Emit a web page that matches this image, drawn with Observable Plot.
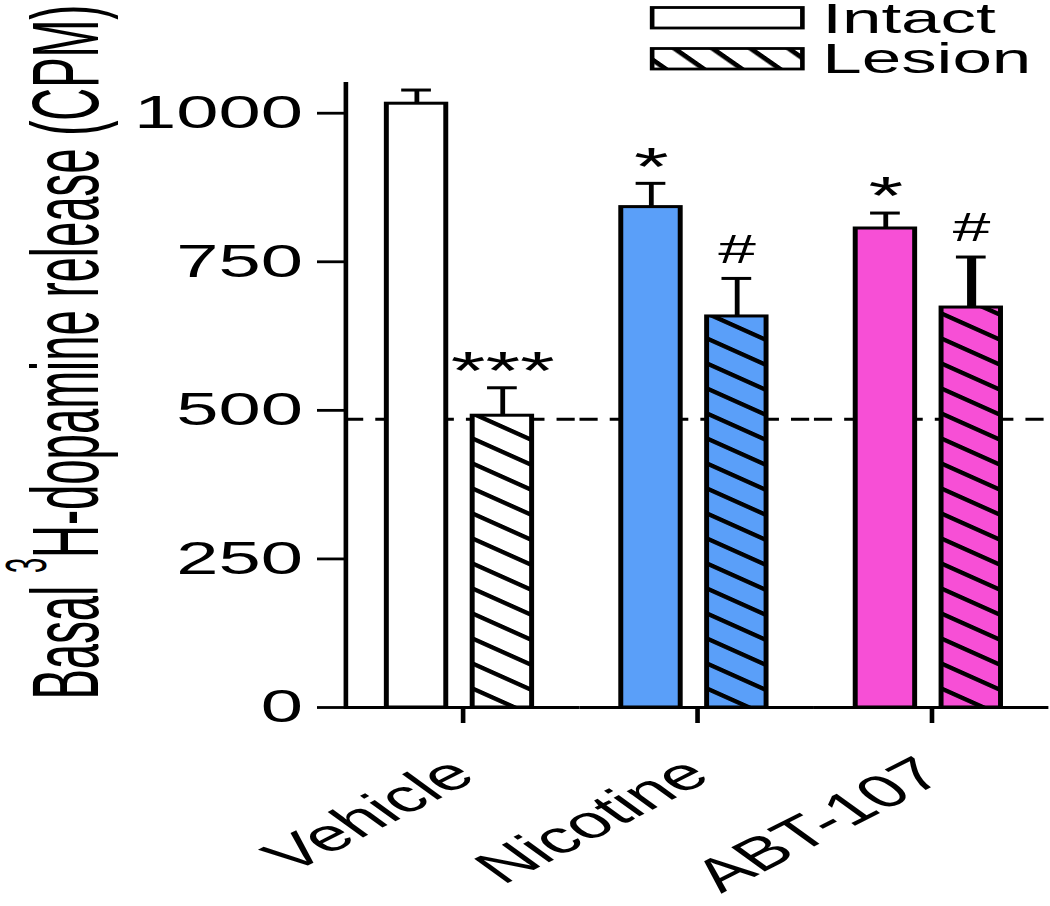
<!DOCTYPE html>
<html><head><meta charset="utf-8">
<script src="https://cdn.jsdelivr.net/npm/d3@7"></script>
<script src="https://cdn.jsdelivr.net/npm/@observablehq/plot@0.6"></script>
<style>
html,body{margin:0;padding:0;background:#fff;overflow:hidden;}
#wrap{position:relative;width:636px;height:906px;transform:scaleX(1.651);transform-origin:0 0;}
#wrap svg{display:block;}
g[aria-label="y-axis tick"] path, g[aria-label="y-axis tick"] line {stroke-width:2.8px;}
g[aria-label="fx-axis tick"] path, g[aria-label="fx-axis tick"] line {stroke-width:2.8px;}
g[aria-label="frame"], rect[aria-label="frame"], line[aria-label="frame"] {stroke-width:2.8px;}
</style></head><body><div id="wrap"></div>
<script>
const groups = ["Vehicle", "Nicotine", "ABT-107"];
const series = ["Intact", "Lesion"];
const groupColors = ["#ffffff", "#5a9ff9", "#f74fd6"];
const intactMean = [1016, 842, 806];
const intactSem = [23, 40, 26];
const lesionMean = [491, 658, 673];
const lesionSem = [47, 64, 85];
const intactSig = ["", "*", "*"];
const lesionSig = ["***", "#", "#"];
const referenceLevel = [485];
const yTicks = [0, 250, 500, 750, 1000];
const yLabel = "Basal ³H-dopamine release (CPM)";

const data = [];
groups.forEach((g, i) => {
  data.push({group: g, series: "Intact", mean: intactMean[i], sem: intactSem[i], sig: intactSig[i]});
  data.push({group: g, series: "Lesion", mean: lesionMean[i], sem: lesionSem[i], sig: lesionSig[i]});
});
const errTop = d => d.mean + d.sem;
const lesion = data.filter(d => d.series === "Lesion");
const stars = data.filter(d => d.sig.includes("*"));
const hashes = data.filter(d => d.sig.includes("#"));

const chart = Plot.plot({
  width: 636, height: 906,
  marginLeft: 208, marginRight: 0, marginTop: 83, marginBottom: 199,
  style: {fontFamily: "'Liberation Sans', Arial, sans-serif", fontSize: "46px", color: "#000", background: "#fff"},
  fx: {domain: groups, padding: 0, label: null, axis: "bottom", tickRotate: -40, tickSize: 16, tickPadding: 44},
  x: {domain: series, paddingInner: 0.31, paddingOuter: 0.508, align: 0.46, axis: null},
  y: {domain: [0, 1050], ticks: yTicks, tickFormat: "d", tickSize: 17, tickPadding: 9, line: true, label: yLabel, labelAnchor: "center"},
  color: {domain: groups, range: groupColors},
  marks: [
    Plot.ruleY(referenceLevel, {strokeDasharray: "11 7.3", strokeWidth: 2.8}),
    Plot.barY(data, {fx: "group", x: "series", y: "mean", fill: "group"}),
    Plot.barY(lesion, {fx: "group", x: "series", y: "mean", fill: "#000", ariaDescription: "hatch"}),
    Plot.barY(data, {fx: "group", x: "series", y: "mean", fill: "none", stroke: "#000", strokeWidth: 3}),
    Plot.ruleX(data, {fx: "group", x: "series", y1: "mean", y2: errTop,
      strokeWidth: d => (d.group === "ABT-107" && d.series === "Lesion") ? 5.5 : 2.9}),
    Plot.tickY(data, {fx: "group", x: "series", y: errTop, strokeWidth: 3, insetLeft: 9, insetRight: 9}),
    Plot.text(stars, {fx: "group", x: "series", y: errTop, text: "sig", fontSize: 54, dy: -16}),
    Plot.text(hashes, {fx: "group", x: "series", y: errTop, text: "sig", fontSize: 41, dy: -29}),
    Plot.ruleY([0], {strokeWidth: 2.8})
  ]
});

document.getElementById("wrap").appendChild(chart);
const svg = d3.select(chart);

// hatch patterns
const defs = svg.insert("defs", ":first-child");
function addPattern(id, period, angle) {
  const pat = defs.append("pattern").attr("id", id)
    .attr("patternUnits", "userSpaceOnUse").attr("width", 20).attr("height", period)
    .attr("patternTransform", `rotate(${angle})`);
  pat.append("rect").attr("x", 0).attr("y", 0).attr("width", 20).attr("height", 3.8).attr("fill", "#000");
}
addPattern("hatch", 20.1, 36.5);
addPattern("hatchLegend", 17.4, 49);
const hatchG = svg.selectAll('g[aria-description="hatch"]');
hatchG.attr("fill", "url(#hatch)");
hatchG.selectAll("rect").attr("fill", "url(#hatch)");

// y label
svg.selectAll("text").filter(function () { return this.textContent.includes("dopamine"); }).each(function () {
  chart.appendChild(this);
  const t = d3.select(this);
  t.attr("transform", "translate(59.4,352) rotate(-90)")
    .attr("x", null).attr("y", null).attr("dy", null)
    .attr("text-anchor", "middle").attr("font-size", 57).attr("fill", "#000")
    .attr("font-family", "'Liberation Sans', Arial, sans-serif")
    .attr("textLength", 695).attr("lengthAdjust", "spacingAndGlyphs");
  t.text(null);
  t.append("tspan").text("Basal ");
  t.append("tspan").attr("font-size", "0.6em").attr("dy", "-0.92em").text("3");
  t.append("tspan").attr("dy", "0.553em").text("H-dopamine release (CPM)");
});

// legend
const lg = svg.append("g").attr("font-family", "'Liberation Sans', Arial, sans-serif")
  .attr("font-size", 43).attr("fill", "#000").attr("text-anchor", "start");
series.forEach((s, i) => {
  const y0 = 7.5 + i * 41;
  lg.append("rect").attr("x", 395).attr("y", y0).attr("width", 91).attr("height", 20.5)
    .attr("fill", "#fff").attr("stroke", "none");
  if (s === "Lesion") {
    lg.append("rect").attr("x", 395).attr("y", y0).attr("width", 91).attr("height", 20.5).attr("fill", "url(#hatchLegend)");
  }
  lg.append("rect").attr("x", 395).attr("y", y0).attr("width", 91).attr("height", 20.5)
    .attr("fill", "none").attr("stroke", "#000").attr("stroke-width", 2.8);
  lg.append("text").attr("x", 498).attr("y", 33 + i * 40).attr("text-anchor", "start").text(s);
});
</script></body></html>
